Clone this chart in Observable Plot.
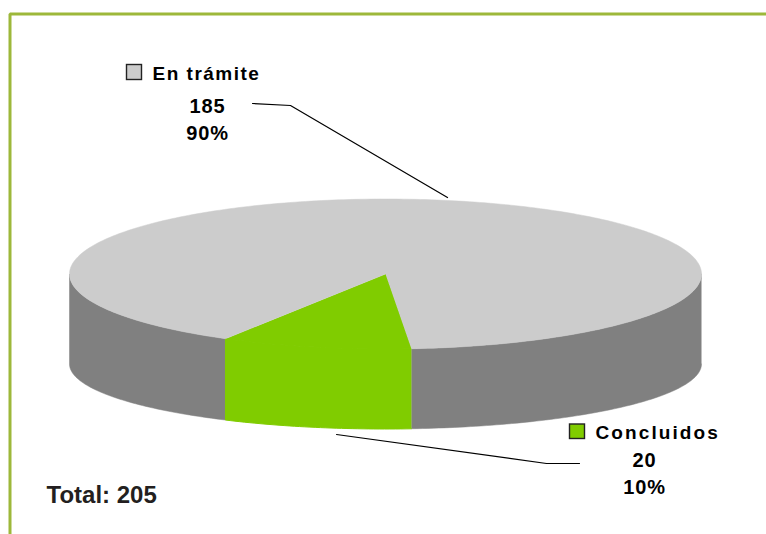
<!DOCTYPE html>
<html>
<head>
<meta charset="utf-8">
<script src="https://cdn.jsdelivr.net/npm/d3@7"></script>
<script src="https://cdn.jsdelivr.net/npm/@observablehq/plot@0.6"></script>
<style>html,body{margin:0;padding:0;background:#fff}svg{display:block}</style>
</head>
<body>
<div id="chart"></div>
<script>
// Data
const categories = ["Concluidos", "En trámite"];
const values = [20, 185];
const topColors = ["#80cc00", "#cccccc"];
const sideColors = ["#80cc00", "#808080"];
const totalLabel = "Total: " + d3.sum(values);

// Pie geometry (layout only)
const cx = 385, cy = 273.5, rx = 316, ry = 75;
const cyBase = 363.5, ryBase = 65;
const startDeg = 175.3;
const rad = Math.PI / 180;
const font = "Liberation Sans, Arial, sans-serif";

const arcs = d3.pie().sort(null).value(d => d)
  .startAngle(startDeg * rad).endAngle((startDeg + 360) * rad)(values);

const onTop = t => ({x: cx + rx * Math.sin(t), y: cy - ry * Math.cos(t)});
const onBase = t => ({x: cx + rx * Math.sin(t), y: cyBase - ryBase * Math.cos(t)});
const sample = (a, b) => {
  const n = Math.max(2, Math.ceil(Math.abs(b - a) / rad));
  return d3.range(n + 1).map(i => a + (b - a) * i / n);
};

// top faces
const topFaces = arcs.map((a, i) => ({
  i,
  pts: [{x: cx, y: cy}, ...sample(a.startAngle, a.endAngle).map(onTop)]
}));

// front walls: the visible stretches of every slice (front half: 90..270 deg, mod 360)
const wallFaces = [];
arcs.forEach((a, i) => {
  [0, 1].forEach(k => {
    const lo = Math.max(a.startAngle, (90 + 360 * k) * rad);
    const hi = Math.min(a.endAngle, (270 + 360 * k) * rad);
    if (hi > lo) {
      const ts = sample(lo, hi);
      wallFaces.push({i, pts: [...ts.map(onTop), ...ts.slice().reverse().map(onBase)]});
    }
  });
});

const poly = (pts, color, w = 0.5) => Plot.line(pts, {x: "x", y: "y", fill: color, stroke: color, strokeWidth: w});

const swatches = [
  {x1: 126.5, x2: 141.5, y1: 64.5, y2: 79.5, c: topColors[1]},
  {x1: 569.5, x2: 584.5, y1: 424, y2: 438.5, c: topColors[0]}
];
const pct = v => Math.round(v / d3.sum(values) * 100) + "%";
const legendLabels = [
  {x: 152, y: 73, t: categories[1]},
  {x: 595, y: 432, t: categories[0]}
];
const valueLabels = [
  {x: 207, y: 117, t: `${values[1]}\n${pct(values[1])}`},
  {x: 644, y: 471.5, t: `${values[0]}\n${pct(values[0])}`}
];
const leaders = [
  [{x: 252, y: 103}, {x: 290, y: 105}, {x: 447, y: 197}],
  [{x: 336, y: 434}, {x: 546, y: 463}, {x: 579, y: 463}]
];
const frame = [{x: 9.5, y: 534}, {x: 9.5, y: 13.5}, {x: 766, y: 13.5}];

const plot = Plot.plot({
  width: 766, height: 534,
  margin: 0,
  x: {domain: [0, 766], range: [0, 766], axis: null},
  y: {domain: [0, 534], range: [0, 534], axis: null},
  style: {fontFamily: font, background: "#fff"},
  marks: [
    Plot.line(frame, {x: "x", y: "y", stroke: "#9db83a", strokeWidth: 3, strokeLinejoin: "miter"}),
    ...wallFaces.filter(f => f.i === 1).map(f => poly(f.pts, sideColors[f.i])),
    ...wallFaces.filter(f => f.i === 0).map(f => poly(f.pts, sideColors[f.i], 1)),
    ...topFaces.map(f => poly(f.pts, topColors[f.i], f.i === 0 ? 1 : 0.5)),
    ...leaders.map(l => Plot.line(l, {x: "x", y: "y", stroke: "#000", strokeWidth: 1.2})),
    Plot.rect(swatches, {x1: "x1", x2: "x2", y1: "y1", y2: "y2", fill: "c", stroke: "#222", strokeWidth: 1.4}),
    Plot.text(legendLabels, {x: "x", y: "y", text: "t", textAnchor: "start", fontSize: 19, fontWeight: "bold", fill: "#000"}),
    Plot.text(valueLabels, {x: "x", y: "y", text: "t", fontSize: 20, fontWeight: "bold", fill: "#000", lineHeight: 1.35}),
    Plot.text([totalLabel], {x: () => 46, y: () => 495, text: d => d, textAnchor: "start", fontSize: 24, fontWeight: "bold", fill: "#231f20"})
  ]
});

plot.querySelectorAll("text").forEach(t => {
  if (t.textContent === categories[0]) t.style.letterSpacing = "2.1px";
  else if (t.textContent === categories[1]) t.style.letterSpacing = "1.5px";
  else if (!t.textContent.startsWith("Total")) t.style.letterSpacing = "0.8px";
});
document.getElementById("chart").append(plot);
</script>
</body>
</html>
